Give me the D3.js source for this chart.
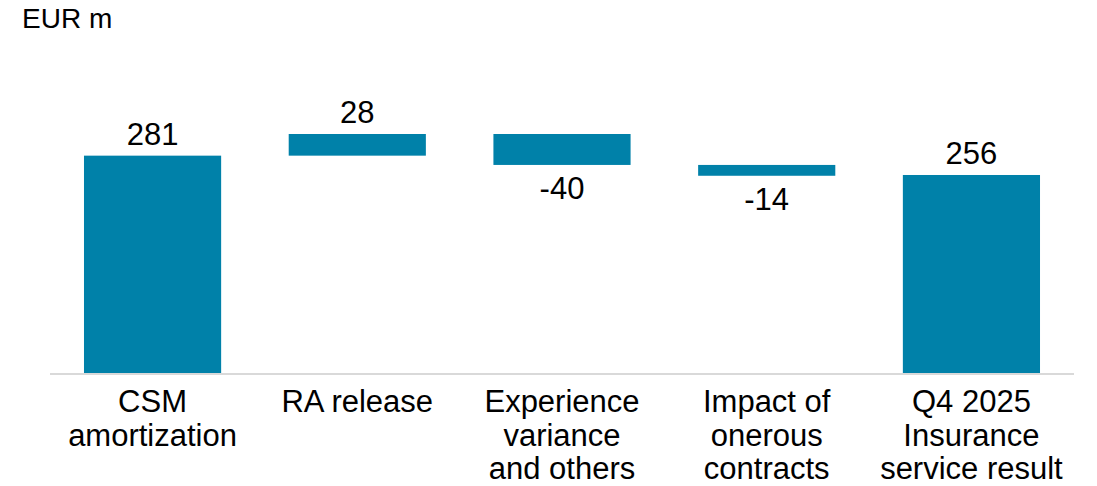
<!DOCTYPE html>
<html>
<head>
<meta charset="utf-8">
<script src="https://cdn.jsdelivr.net/npm/d3@7"></script>
<style>
body { margin: 0; background: #fff; }
text { font-family: "Liberation Sans", Arial, sans-serif; fill: #000; }
</style>
</head>
<body>
<div id="wrapper"></div>
<script>
const categories = [
	["CSM", "amortization"],
	["RA release"],
	["Experience", "variance", "and others"],
	["Impact of", "onerous", "contracts"],
	["Q4 2025", "Insurance", "service result"]
];
const values = [281, 28, -40, -14, 256];
const isTotal = [true, false, false, false, true];
const valueLabels = ["281", "28", "-40", "-14", "256"];
const unitLabel = "EUR m";

function drawWaterfall() {
	let dimensions = { width: 1097, height: 486 };

	const svg = d3.select("#wrapper").append("svg")
		.attr("width", dimensions.width)
		.attr("height", dimensions.height);

	// build start / end of each step
	let running = 0;
	const steps = values.map((v, i) => {
		let start, end;
		if (isTotal[i]) { start = 0; end = v; running = v; }
		else { start = running; end = running + v; running = end; }
		return { i, v, start, end, label: valueLabels[i], cat: categories[i] };
	});

	const xScale = d3.scaleBand()
		.domain(d3.range(values.length))
		.range([50, 1074])
		.paddingInner(0.33)
		.paddingOuter(0.166);

	const yScale = d3.scaleLinear()
		.domain([0, 309])
		.range([373, 134]);

	svg.append("text")
		.attr("x", 22)
		.attr("y", 28)
		.style("font-size", "28px")
		.text(unitLabel);

	svg.selectAll("rect.bar")
		.data(steps)
		.join("rect")
		.attr("class", "bar")
		.attr("x", d => xScale(d.i))
		.attr("width", xScale.bandwidth())
		.attr("y", d => yScale(Math.max(d.start, d.end)))
		.attr("height", d => Math.abs(yScale(d.start) - yScale(d.end)))
		.attr("fill", "#0081a9");

	// baseline
	svg.append("line")
		.attr("x1", 50)
		.attr("x2", 1074)
		.attr("y1", yScale(0) + 1)
		.attr("y2", yScale(0) + 1)
		.attr("stroke", "#d9d9d9")
		.attr("stroke-width", 2);

	svg.selectAll("text.val")
		.data(steps)
		.join("text")
		.attr("class", "val")
		.attr("text-anchor", "middle")
		.attr("x", d => xScale(d.i) + xScale.bandwidth() / 2)
		.attr("y", d => d.v >= 0 ? yScale(d.end) - 11 : yScale(d.end) + 34)
		.style("font-size", "31px")
		.text(d => d.label);

	const xAxis = svg.append("g");
	steps.forEach(d => {
		const t = xAxis.append("text")
			.attr("text-anchor", "middle")
			.attr("x", xScale(d.i) + xScale.bandwidth() / 2)
			.attr("y", 412)
			.style("font-size", "31px");
		d.cat.forEach((line, k) => {
			t.append("tspan")
				.attr("x", xScale(d.i) + xScale.bandwidth() / 2)
				.attr("dy", k === 0 ? 0 : 33.5)
				.text(line);
		});
	});
}

drawWaterfall();
</script>
</body>
</html>
